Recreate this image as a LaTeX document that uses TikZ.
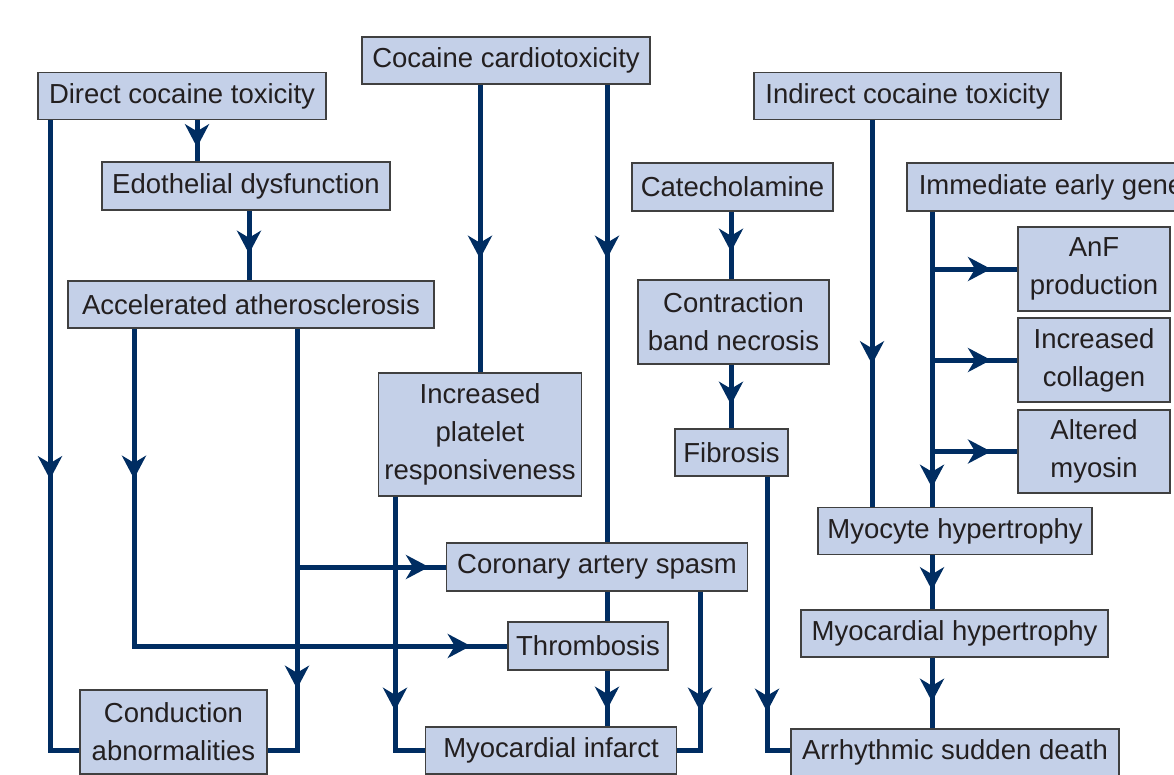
\documentclass[tikz,border=0pt]{standalone}
\usepackage{fontspec}
\setmainfont{Liberation Sans}
\usetikzlibrary{arrows.meta,decorations.markings}
\definecolor{navy}{RGB}{0,45,98}
\definecolor{boxblue}{RGB}{196,208,232}
\definecolor{boxedge}{RGB}{64,64,64}
\definecolor{inktext}{RGB}{35,31,32}
\tikzset{
  myhead/.tip={Stealth[length=23pt,width=24pt,inset=7pt]},
  box/.style={draw=boxedge, fill=boxblue, line width=1.5pt, align=center, inner sep=0pt,
    text=inktext, font=\fontsize{27.5pt}{38pt}\selectfont},
  conn/.style={draw=navy, line width=5pt},
  arrowat/.style={postaction={decorate}, decoration={markings,
    mark=at position #1 with {\arrow[navy]{myhead}}}},
  arrowattwo/.style 2 args={postaction={decorate}, decoration={markings,
    mark=at position #1 with {\arrow[navy]{myhead}},
    mark=at position #2 with {\arrow[navy]{myhead}}}}
}
\begin{document}
\begin{tikzpicture}[x=1pt,y=-1pt]
\useasboundingbox (0,0) rectangle (1174,774);
\clip (0,0) rectangle (1174,774);
% nodes
\node[box, minimum width=288pt, minimum height=47pt] (direct) at (182,96) {Direct cocaine toxicity};
\node[box, minimum width=288pt, minimum height=47pt] (cocaine) at (506,60.5) {Cocaine cardiotoxicity};
\node[box, minimum width=307pt, minimum height=47pt] (indirect) at (907.5,96) {Indirect cocaine toxicity};
\node[box, minimum width=288pt, minimum height=48pt] (edo) at (246,186) {Edothelial dysfunction};
\node[box, minimum width=366pt, minimum height=47pt] (accel) at (251,304.5) {Accelerated atherosclerosis};
\node[box, minimum width=201pt, minimum height=48pt] (catechol) at (732.5,187) {Catecholamine};
\node[box, anchor=west, inner xsep=12pt, minimum height=48pt] (immediate) at (906,187) {Immediate early genes};
\node[box, minimum width=152pt, minimum height=84pt] (anf) at (1094,269) {AnF\\production};
\node[box, minimum width=152pt, minimum height=84pt] (collagen) at (1094,360) {Increased\\collagen};
\node[box, minimum width=152pt, minimum height=83pt] (myosin) at (1094,451.5) {Altered\\myosin};
\node[box, minimum width=191pt, minimum height=84pt] (contraction) at (733.5,322) {Contraction\\band necrosis};
\node[box, minimum width=113pt, minimum height=47pt] (fibrosis) at (731.5,452.5) {Fibrosis};
\node[box, minimum width=203pt, minimum height=123pt] (platelet) at (480,434.5) {Increased\\platelet\\responsiveness};
\node[box, minimum width=301pt, minimum height=48pt] (coronary) at (597,567) {Coronary artery spasm};
\node[box, minimum width=160pt, minimum height=48pt] (thromb) at (588,646) {Thrombosis};
\node[box, minimum width=274pt, minimum height=47pt] (myocyte) at (955,531) {Myocyte hypertrophy};
\node[box, minimum width=307pt, minimum height=47pt] (myohyp) at (954.5,633.5) {Myocardial hypertrophy};
\node[box, minimum width=187pt, minimum height=84pt] (conduction) at (173.5,732) {Conduction\\abnormalities};
\node[box, minimum width=251pt, minimum height=47pt] (mi) at (551,750.5) {Myocardial infarct};
\node[box, minimum width=328pt, minimum height=47pt] (arrh) at (955,752.5) {Arrhythmic sudden death};
% lanes
\coordinate (L1) at (50,0);
\coordinate (L2) at (197,0);
\coordinate (L3) at (249,0);
\coordinate (L4) at (134,0);
\coordinate (L5) at (297,0);
\coordinate (L7) at (607,0);
\coordinate (L8) at (395,0);
\coordinate (L9) at (700,0);
\coordinate (L10) at (731,0);
\coordinate (L11) at (767,0);
\coordinate (L12) at (872,0);
\coordinate (L13) at (932,0);
\coordinate (Hb) at (0,750);
% connectors
\draw[conn, arrowat=359pt] (direct.south -| L1) |- (conduction.west |- Hb);
\draw[conn, arrowat=27pt] (direct.south -| L2) -- (edo.north -| L2);
\draw[conn, arrowat=43pt] (edo.south -| L3) -- (accel.north -| L3);
\draw[conn, arrowattwo={150pt}{654pt}] (accel.south -| L4) |- (thromb.west);
\draw[conn, arrowat=360pt] (accel.south -| L5) |- (conduction.east |- Hb);
\draw[conn, arrowat=132pt] (L5 |- coronary.west) -- (coronary.west);
\draw[conn, arrowat=174pt] (cocaine.south -| platelet.north) -- (platelet.north);
\draw[conn, arrowat=174pt] (cocaine.south -| L7) -- (coronary.north -| L7);
\draw[conn] (coronary.south -| L7) -- (thromb.north -| L7);
\draw[conn, arrowat=39pt] (thromb.south -| L7) -- (mi.north -| L7);
\draw[conn, arrowat=214pt] (platelet.south -| L8) |- (mi.west |- Hb);
\draw[conn, arrowat=119pt] (coronary.south -| L9) |- (mi.east |- Hb);
\draw[conn, arrowat=40pt] (catechol.south -| L10) -- (contraction.north -| L10);
\draw[conn, arrowat=40pt] (contraction.south -| L10) -- (fibrosis.north -| L10);
\draw[conn, arrowat=235pt] (fibrosis.south -| L11) |- (arrh.west |- Hb);
\draw[conn, arrowat=244pt] (indirect.south -| L12) -- (myocyte.north -| L12);
\draw[conn, arrowat=276pt] (immediate.south -| L13) -- (myocyte.north -| L13);
\draw[conn, arrowat=59pt] (L13 |- anf.west) -- (anf.west);
\draw[conn, arrowat=59pt] (L13 |- collagen.west) -- (collagen.west);
\draw[conn, arrowat=59pt] (L13 |- myosin.west) -- (myosin.west);
\draw[conn, arrowat=35pt] (myocyte.south -| L13) -- (myohyp.north -| L13);
\draw[conn, arrowat=44pt] (myohyp.south -| L13) -- (arrh.north -| L13);
\end{tikzpicture}
\end{document}
